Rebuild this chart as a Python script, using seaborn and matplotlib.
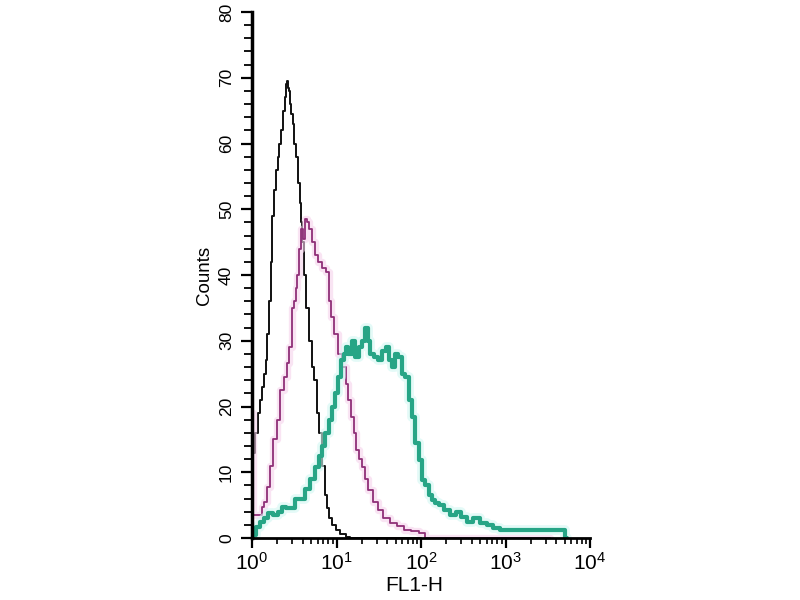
import matplotlib
matplotlib.use("Agg")
import matplotlib.pyplot as plt
import numpy as np
import pandas as pd
import seaborn as sns
from matplotlib.ticker import MultipleLocator, LogLocator

# ---- data (FL1-H value, counts) ----
black_x = [1.00, 1.03, 1.06, 1.09, 1.15, 1.20, 1.28, 1.35, 1.43, 1.47, 1.55, 1.63, 1.70, 1.77,
           1.87, 1.98, 2.08, 2.15, 2.27, 2.39, 2.48, 2.56, 2.62, 2.67, 2.74, 2.82, 2.97, 3.10,
           3.23, 3.41, 3.60, 3.70, 3.85, 4.01, 4.24, 4.48, 4.86, 5.27, 5.57, 6.04, 6.38, 6.92,
           7.51, 7.93, 8.38, 9.34, 10.4, 11.9, 13.7, 15.0, 30, 60, 100]
black_y = [45, 13, 13, 16, 16, 19, 21, 23, 25, 27, 31, 36, 42, 49,
           53, 56, 58, 60, 62, 65, 67, 69, 69.5, 68.5, 68, 66, 64.5, 63,
           60, 58, 54, 51, 48, 45, 40, 35, 30, 26, 24, 19, 16, 11,
           6.5, 4.5, 3, 2, 1.2, 0.6, 0.2, 0, 0, 0, 0]

magenta_x = [1.00, 1.03, 1.085, 1.18, 1.31, 1.35, 1.43, 1.55, 1.68, 1.87,
             2.03, 2.27, 2.46, 2.67, 2.82, 3.06, 3.23, 3.41, 3.50, 3.70,
             3.90, 4.12, 4.35, 4.60, 4.86, 5.27, 5.72, 6.38, 7.11, 7.72,
             8.38, 8.85, 9.86, 11.0, 12.3, 13.3, 14.4, 15.3, 16.6, 17.5,
             19.0, 20.6, 22.4, 24.9, 28.6, 32.7, 38.5, 46.6, 56.4, 68.3,
             84.9, 106, 118, 146, 220, 500, 1200, 3400]
magenta_y = [19, 3.5, 3.5, 3.5, 3.5, 4.7, 5.5, 7.8, 11, 15,
             18, 22.5, 24.5, 26.6, 29, 35, 36, 38, 40, 44,
             47, 45.5, 48.5, 48, 47, 45, 43, 42, 41, 40.5,
             36, 33.6, 31, 28, 26, 23.5, 21, 18.4, 16, 13.4,
             12, 10.8, 9, 7.3, 5.5, 4.3, 3, 2.3, 1.8, 1.2,
             1.0, 0.8, 0, 0, 0, 0, 0, 0]

green_x = [1.00, 1.056, 1.146, 1.313, 1.465, 1.633, 1.872, 2.145, 2.33, 2.667,
           3.057, 3.409, 3.90, 4.48, 5.13, 5.88, 6.38, 6.92, 7.72, 8.38,
           9.09, 9.86, 11.0, 11.9, 12.6, 13.3, 14.4, 15.7, 17.5, 19.0,
           20.6, 22.4, 24.2, 26.3, 29.3, 32.7, 36.5, 39.6, 43.0, 46.6,
           50.6, 56.4, 61.2, 68.3, 74.1, 80.4, 89.7, 97.3, 106, 118,
           128, 139, 155, 168, 203, 239, 274, 314, 380, 448,
           542, 656, 772, 934, 1486, 2560, 4790, 5345]
green_y = [0, 0.5, 1.7, 2.5, 3, 3.8, 3.5, 4, 4.7, 4.5,
           4.5, 6, 6, 7.5, 9, 10.8, 12.5, 14, 16, 18,
           20, 22, 24.5, 27, 28, 29, 28, 30, 27.5, 29,
           30, 32, 30, 28, 27.5, 27, 28.5, 29, 27, 26,
           28, 27.5, 25, 24.5, 21, 18.4, 14.5, 11.9, 8.8, 8,
           6.5, 5.8, 5.3, 5.0, 4.3, 3.5, 4, 3.2, 2.5, 3,
           2.3, 2, 1.5, 1.2, 1.2, 1.2, 1.2, 0]

sns.set_style("ticks")
plt.rcParams["font.family"] = ["Liberation Sans", "DejaVu Sans"]
plt.rcParams["text.color"] = "black"
plt.rcParams["axes.labelcolor"] = "black"
plt.rcParams["xtick.color"] = "black"
plt.rcParams["ytick.color"] = "black"
plt.rcParams["axes.edgecolor"] = "black"

fig = plt.figure(figsize=(8, 6), dpi=100)
ax = fig.add_axes([0.315, 0.1033, 0.4225, 0.8767])
ax.set_xscale("log")

series = [
    (black_x, black_y, "#111111", 1.4, None),
    (magenta_x, magenta_y, "#8f2f78", 1.3, "#f6d2ec"),
    (green_x, green_y, "#27a586", 3.0, "#d2f7f3"),
]
for xs, ys, col, lw, halo in series:
    df = pd.DataFrame({"FL1-H": xs, "Counts": ys})
    if halo is not None:
        sns.lineplot(data=df, x="FL1-H", y="Counts", color=halo, lw=lw + 4,
                     alpha=0.6, drawstyle="steps-mid", ax=ax, legend=False)
    sns.lineplot(data=df, x="FL1-H", y="Counts", color=col, lw=lw,
                 drawstyle="steps-mid", ax=ax, legend=False)

ax.set_xlim(1, 1e4)
ax.set_ylim(0, 80)
sns.despine(ax=ax)
ax.spines["left"].set_linewidth(2.5)
ax.spines["bottom"].set_linewidth(2.0)

ax.yaxis.set_major_locator(MultipleLocator(10))
ax.yaxis.set_minor_locator(MultipleLocator(2))
ax.xaxis.set_major_locator(LogLocator(base=10, numticks=10))
ax.xaxis.set_minor_locator(LogLocator(base=10, subs=np.arange(2, 10), numticks=20))

ax.tick_params(axis="y", which="major", length=8, width=1.6, labelsize=12.5, pad=5, labelrotation=90)
ax.tick_params(axis="y", which="minor", length=6, width=1.3)
ax.tick_params(axis="x", which="major", length=7, width=1.6, labelsize=15, pad=3)
ax.tick_params(axis="x", which="minor", length=4, width=1.2)
for lbl in ax.get_yticklabels():
    lbl.set_verticalalignment("center")

ax.set_ylabel("Counts", fontsize=13.5, labelpad=4)
ax.set_xlabel("FL1-H", fontsize=15, labelpad=0)
ax.xaxis.set_label_coords(0.48, -0.072)

fig.savefig("out.png", dpi=100)
